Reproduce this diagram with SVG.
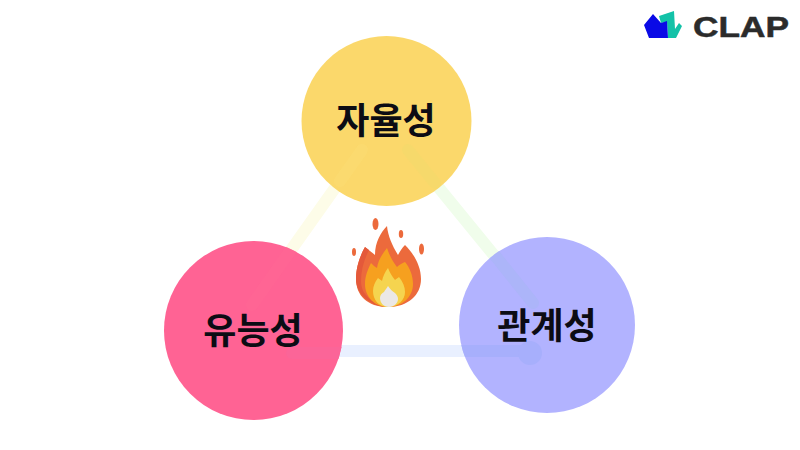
<svg xmlns="http://www.w3.org/2000/svg" width="800" height="450" viewBox="0 0 800 450">
<style>
.n{font-family:"Noto Sans CJK KR","Noto Sans",sans-serif;font-weight:700;font-size:36px;fill:#0c0c14;text-anchor:middle}
.c{fill:none;stroke-width:12;stroke-linecap:round}
</style>
<defs>
<clipPath id="cr"><circle cx="547" cy="325" r="88"/></clipPath>
<clipPath id="cl"><circle cx="253.500" cy="330.500" r="89.500"/></clipPath>
<clipPath id="ct"><circle cx="386.500" cy="121" r="85"/></clipPath>
</defs>
<rect width="800" height="450" fill="#fff"/>
<g id="connectors">
<path class="c" d="M252 305L362 150" stroke="#fdfce8"/>
<path class="c" d="M408 150L533 303" stroke="#f0fdeb"/>
<path class="c" d="M300 351H527" stroke="#e9f0ff"/>
</g>
<g id="node-top"><circle cx="386.500" cy="121" r="85" fill="#fbd86b"/></g>
<g id="node-left"><circle cx="253.500" cy="330.500" r="89.500" fill="#ff6394"/></g>
<g id="node-right"><circle cx="547" cy="325" r="88" fill="#b2b3ff"/></g>
<g id="connector-tints">
<g clip-path="url(#ct)"><path class="c" d="M362 150L340 181" stroke="#fbdc72" stroke-opacity=".6"/><path class="c" d="M408 150L435 183" stroke="#f3da6a" stroke-opacity=".6"/></g>
<g clip-path="url(#cl)"><path class="c" d="M252 305L300 237" stroke="#ff6694" stroke-opacity=".7"/><path class="c" d="M292 353H345" stroke="#fb6598"/></g>
<g clip-path="url(#cr)"><path class="c" d="M485 243L533 303" stroke="#a9b5f5" stroke-opacity=".6"/><path class="c" d="M450 351H530" stroke="#a7affc"/><circle cx="530" cy="353" r="12" fill="#a7affc"/></g>
</g>
<text class="n" x="386" y="134">자율성</text>
<text class="n" x="253" y="344">유능성</text>
<text class="n" x="547" y="339">관계성</text>
<g id="fire">
<path d="M388 307C367 307 356 295 356 279C356 266 361 254 365 247C368 250 372 252 375 255C375 242 381 232 387 226C388 236 392 245 398 255C400 251 402 248 405 245C414 254 421 266 421 279C421 295 408 307 388 307Z" fill="#ec6a3c"/>
<path d="M388 307C372 307 356 295 356 279C356 266 361 254 365 247L369 250C364 260 361 270 361 281C361 295 372 303 388 307Z" fill="#e4593a"/>
<path d="M388 307C375 307 365 297 365 284C365 276 368 269 371 263C373 265 375 267 377 268C378 260 383 253 387 248C389 254 392 261 397 267C399 265 402 263 405 262C410 268 413 276 413 284C413 297 402 307 388 307Z" fill="#f6a01f"/>
<path d="M388 307C379 307 373 300 373 291C373 286 375 282 378 278C379 279 381 280 382 281C383 276 385 272 388 268C390 273 392 276 395 280C396 279 398 278 399 277C403 282 405 287 405 292C405 300 398 307 388 307Z" fill="#f5d44f"/>
<path d="M389 307C384 307 380 303 380 298C380 295 382 293 384 292C385 290 387 288 388 286C390 289 392 291 395 293C397 295 398 297 398 299C398 303 394 307 389 307Z" fill="#ebe8e6"/>
<g fill="#ec6a3c"><ellipse cx="375.500" cy="224" rx="3" ry="6"/><ellipse cx="401" cy="234" rx="2.200" ry="4"/><ellipse cx="421.500" cy="249" rx="2.500" ry="5.500"/><ellipse cx="354" cy="252" rx="2" ry="4"/></g>
</g>
<g id="logo">
<path d="M659 16L674 11L675 29L679 23L682 26L676 38H668L667 22L661 23Z" fill="#13c2a8"/>
<path d="M644 25L653 14L661 23L667 21L668 38H649Z" fill="#0a0ae6"/>
<text x="693" y="37" font-family="'Liberation Sans',sans-serif" font-size="29" font-weight="700" fill="#2b2b2b" stroke="#2b2b2b" stroke-width=".5" textLength="96" lengthAdjust="spacingAndGlyphs">CLAP</text>
</g>
</svg>
